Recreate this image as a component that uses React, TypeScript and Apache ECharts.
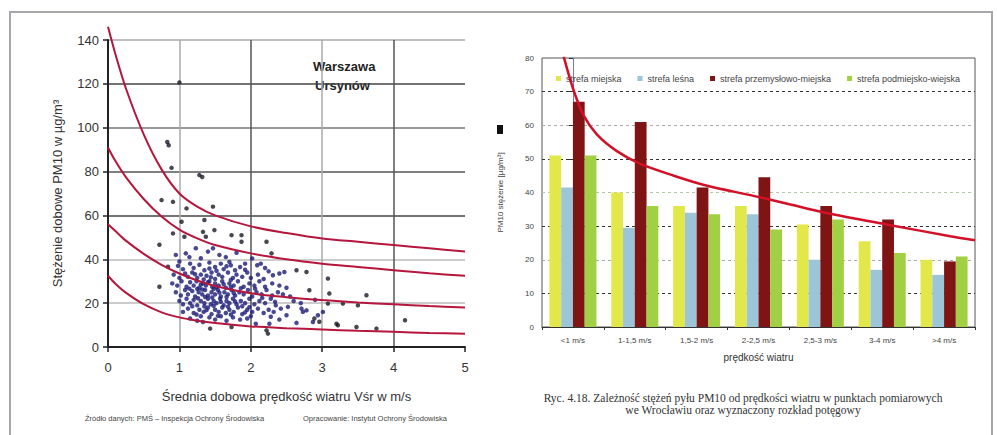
import { useEffect, useRef } from "react";
import * as echarts from "echarts";

// ---------- Left panel: scatter + envelope curves ----------
const leftXTicks = [0, 1, 2, 3, 4, 5];
const leftYTicks = [0, 20, 40, 60, 80, 100, 120, 140];

const curveX = [0, 0.1, 0.25, 0.5, 0.75, 1, 1.25, 1.5, 2, 2.5, 3, 3.5, 4, 4.5, 5];
const curveA = [146, 134, 118, 97, 81, 70, 64, 60, 55, 52, 49.5, 48, 46.5, 45, 43.5];
const curveB = [91, 85, 77.5, 67.5, 59.5, 53.5, 49.5, 46.5, 42.7, 40, 38, 36.5, 35, 33.6, 32.5];
const curveC = [56, 53, 48.5, 42.5, 37.5, 33.5, 30.3, 27.8, 24.5, 22.7, 21.4, 20.3, 19.5, 18.7, 18];
const curveD = [32.5, 29, 24.8, 19.5, 15.8, 13.5, 12, 10.9, 9.4, 8.6, 8, 7.4, 6.9, 6.4, 6];

const outlierPoints: [number, number][] = [
  [1.0, 120.6], [0.83, 93.5], [0.85, 92], [0.89, 81.7], [1.28, 78.4], [1.32, 77.5],
  [0.75, 67], [0.91, 66.2], [1.1, 63.2], [1.47, 64], [1.03, 57.1], [1.35, 57.9],
  [0.91, 51.8], [1.07, 50.3], [1.33, 52.5], [1.37, 50.3], [1.49, 53.3], [1.73, 51],
  [1.87, 51], [1.87, 48], [2.22, 48], [2.29, 42.7], [0.72, 46.6], [0.84, 36.6],
  [0.72, 27.5], [1.43, 8.4], [1.73, 9.1], [2.22, 7.6], [2.24, 6.1], [3.2, 10.6],
  [3.22, 9.9], [3.48, 9.1], [3.76, 8.4], [4.16, 12.2], [2.96, 11.5], [2.89, 13],
  [3.1, 24.4], [3.08, 31.2], [3.62, 23.6], [2.64, 35], [2.78, 34.2], [3.29, 19.8],
  [3.5, 19], [3.08, 19.8], [2.82, 25.9],
];

const clusterPoints: [number, number][] = [
  [0.95, 42], [1.09, 42.7], [1.14, 41], [1.23, 45], [1.47, 45], [1.56, 42], [1.3, 40.5],
  [1.65, 41], [2.02, 40.4], [1.8, 43], [1.4, 43.5],
  [0.98, 37], [1.05, 35.5], [1.15, 38], [1.2, 36], [1.28, 37.5], [1.35, 35], [1.42, 38.5],
  [1.5, 36.5], [1.58, 38], [1.62, 35.5], [1.7, 38.8], [1.72, 37.3], [1.78, 35], [1.85, 36.5],
  [1.92, 38], [2.09, 37.3], [2.14, 38], [2.2, 36], [1.0, 39],
  [0.92, 33], [1.0, 31.5], [1.08, 33.5], [1.12, 32], [1.18, 34], [1.25, 31.5], [1.3, 33],
  [1.38, 32.5], [1.45, 34], [1.5, 31], [1.55, 33], [1.6, 32], [1.68, 34], [1.75, 31.5],
  [1.8, 33], [1.88, 32], [1.95, 34], [2.0, 31.5], [2.1, 33], [2.18, 31], [2.31, 32.7],
  [2.4, 33.5], [2.47, 34.2], [2.25, 34.5],
  [0.9, 29], [0.97, 28], [1.03, 30], [1.1, 27.5], [1.15, 29.5], [1.2, 28], [1.24, 30],
  [1.28, 27], [1.33, 29], [1.37, 28], [1.42, 30], [1.46, 27.5], [1.5, 29], [1.55, 28],
  [1.6, 30], [1.65, 27], [1.7, 29], [1.76, 28], [1.82, 30], [1.9, 27.5], [1.98, 29],
  [2.05, 28], [2.12, 30], [2.2, 27.5], [2.3, 29], [2.4, 28], [2.5, 27], [1.3, 28.5], [1.4, 29.5],
  [0.95, 25], [1.02, 23.5], [1.08, 26], [1.12, 24], [1.18, 25.5], [1.22, 23], [1.27, 25],
  [1.32, 24], [1.36, 26], [1.4, 23.5], [1.45, 25], [1.5, 24], [1.54, 26], [1.58, 23],
  [1.63, 25], [1.68, 24], [1.73, 26], [1.78, 23.5], [1.84, 25], [1.9, 24], [1.96, 26],
  [2.02, 23], [2.08, 25], [2.15, 24], [2.22, 26], [2.3, 23.5], [2.38, 25], [2.45, 24],
  [2.55, 23], [1.25, 26.5], [1.48, 26.5],
  [1.0, 21], [1.05, 19.5], [1.1, 22], [1.15, 20], [1.2, 21.5], [1.25, 19], [1.3, 21],
  [1.35, 20], [1.4, 22], [1.44, 19.5], [1.48, 21], [1.52, 20], [1.57, 22], [1.62, 19],
  [1.66, 21], [1.7, 20], [1.75, 22], [1.8, 19.5], [1.86, 21], [1.92, 20], [1.98, 22],
  [2.05, 19.5], [2.12, 21], [2.2, 20], [2.28, 22], [2.35, 19], [2.52, 18.3], [2.6, 21],
  [2.7, 20], [2.9, 21.5],
  [1.05, 16], [1.12, 17.5], [1.2, 15.5], [1.28, 17], [1.34, 16], [1.4, 18], [1.45, 15],
  [1.5, 17], [1.55, 16], [1.6, 18], [1.65, 15.5], [1.7, 17], [1.76, 16], [1.82, 18],
  [1.88, 15], [1.95, 17], [2.02, 16], [2.1, 17.5], [2.18, 15.5], [2.25, 17], [2.32, 16],
  [2.42, 17.5], [2.71, 17.5], [2.73, 16], [2.78, 16.7], [3.01, 16], [2.5, 14.5], [2.94, 14.5],
  [1.35, 18.5],
  [1.15, 13], [1.25, 12], [1.33, 11.4], [1.42, 13.5], [1.5, 12.5], [1.58, 14], [1.66, 12],
  [1.75, 13.5], [1.85, 12.5], [1.95, 13], [2.07, 10.6], [2.26, 10.6], [2.64, 11], [2.87, 11.4],
  [2.4, 12.5], [2.0, 14], [1.3, 14],
  [1.22, 33.2], [1.34, 30.8], [1.44, 31.8], [1.52, 34.8], [1.62, 28.6], [1.72, 30.6],
  [1.26, 22.2], [1.36, 22.8], [1.46, 22.6], [1.56, 24.8], [1.66, 22.8], [1.76, 24.6],
  [1.18, 18.6], [1.38, 16.8], [1.48, 18.8], [1.58, 20.6], [1.68, 18.4], [1.78, 20.8],
  [1.88, 18.6], [1.98, 18.2], [1.14, 26.6], [1.32, 26.2], [1.52, 27.2], [1.72, 27.4],
  [1.86, 26.8], [2.06, 26.6], [1.42, 35.8], [1.66, 36.8], [1.92, 35.2], [2.16, 22.4],
  [2.34, 20.6], [1.54, 14.2], [1.72, 14.8], [1.92, 15.8], [1.24, 14.8], [2.28, 13.8],
];

// ---------- Right panel: bars + power trend ----------
const speedCats = ["<1 m/s", "1-1,5 m/s", "1,5-2 m/s", "2-2,5 m/s", "2,5-3 m/s", "3-4 m/s", ">4 m/s"];
const zoneNames = ["strefa miejska", "strefa leśna", "strefa przemysłowo-miejska", "strefa podmiejsko-wiejska"];
const zone1 = [51, 40, 36, 36, 30.5, 25.5, 20];
const zone2 = [41.5, 29.5, 34, 33.5, 20, 17, 15.5];
const zone3 = [67, 61, 41.5, 44.5, 36, 32, 19.5];
const zone4 = [51, 36, 33.5, 29, 32, 22, 21];
const rightYTicks = [0, 10, 20, 30, 40, 50, 60, 70, 80];
const trendPos = [-0.15, 0, 0.17, 0.39, 0.71, 1.09, 1.63, 2.17, 2.92, 3.5, 4.08, 5.07, 6.1, 6.5];
const trendVal = [80.5, 71, 63, 57.2, 52.3, 48.5, 45, 42, 39, 36.5, 34, 30.5, 27, 25.8];

const SANS = "'Liberation Sans', Arial, sans-serif";
const SERIF = "'Liberation Serif', 'Times New Roman', serif";

function buildOption() {
  const curveSeries = [curveA, curveB, curveC, curveD].map((c) => ({
    type: "line",
    xAxisIndex: 0,
    yAxisIndex: 0,
    data: curveX.map((x, i) => [x, c[i]]),
    smooth: 0.3,
    symbol: "none",
    clip: false,
    z: 4,
    lineStyle: { color: "#b5163c", width: 2 },
  }));
  const barColors = ["#e2e84a", "#9cc6d8", "#7e1414", "#a2d044"];
  const barSeries = [zone1, zone2, zone3, zone4].map((d, k) => ({
    type: "bar",
    name: zoneNames[k],
    xAxisIndex: 1,
    yAxisIndex: 1,
    data: d,
    barGap: "0%",
    barCategoryGap: "24%",
    itemStyle: { color: barColors[k] },
  }));

  return {
    animation: false,
    backgroundColor: "#ffffff",
    textStyle: { fontFamily: SANS },
    grid: [
      { left: 108, top: 40, width: 357, height: 307 },
      { left: 542, top: 58, width: 433, height: 269, show: true, borderColor: "#555", borderWidth: 1, backgroundColor: "transparent" },
    ],
    legend: {
      data: zoneNames,
      left: 551,
      top: 69,
      icon: "rect",
      itemWidth: 5,
      itemHeight: 5,
      itemGap: 16,
      textStyle: { fontSize: 9, color: "#444", fontFamily: SANS },
    },
    xAxis: [
      {
        gridIndex: 0,
        type: "value",
        min: leftXTicks[0],
        max: leftXTicks[leftXTicks.length - 1],
        interval: 1,
        name: "Średnia dobowa prędkość wiatru Vśr w m/s",
        nameLocation: "middle",
        nameGap: 43,
        nameTextStyle: { fontSize: 13, color: "#333", fontFamily: SANS },
        axisLine: { show: true, lineStyle: { color: "#222", width: 2 } },
        axisTick: { show: true, length: 5, lineStyle: { color: "#222", width: 1.5 } },
        axisLabel: { fontSize: 13, color: "#333", margin: 14, fontFamily: SANS },
        splitLine: {
          show: true,
          lineStyle: { color: ["#222", "#aaaaaa", "#555555", "#aaaaaa", "#555555", "rgba(0,0,0,0)"], width: 1.5 },
        },
      },
      {
        gridIndex: 1,
        type: "category",
        data: speedCats,
        name: "prędkość wiatru",
        nameLocation: "middle",
        nameGap: 25,
        nameTextStyle: { fontSize: 10, color: "#333", fontFamily: SANS },
        axisLine: { show: true, lineStyle: { color: "#333", width: 1 } },
        axisTick: { show: true, length: 3, lineStyle: { color: "#333" } },
        axisLabel: { fontSize: 8, color: "#444", margin: 9, fontFamily: SANS },
        splitLine: { show: false },
      },
      { gridIndex: 1, type: "value", min: -0.5, max: 6.5, show: false },
    ],
    yAxis: [
      {
        gridIndex: 0,
        type: "value",
        min: leftYTicks[0],
        max: leftYTicks[leftYTicks.length - 1],
        interval: 20,
        name: "Stężenie dobowe PM10 w µg/m³",
        nameLocation: "middle",
        nameGap: 44,
        nameTextStyle: { fontSize: 13, color: "#333", fontFamily: SANS },
        axisLine: { show: true, lineStyle: { color: "#222", width: 2 } },
        axisTick: { show: true, length: 5, lineStyle: { color: "#222", width: 1.5 } },
        axisLabel: { fontSize: 13, color: "#333", margin: 9, fontFamily: SANS },
        splitLine: {
          show: true,
          lineStyle: {
            color: ["#222", "#bbbbbb", "#bbbbbb", "#444444", "#555555", "#777777", "#444444", "#aaaaaa"],
            width: 1.5,
          },
        },
      },
      {
        gridIndex: 1,
        type: "value",
        min: rightYTicks[0],
        max: rightYTicks[rightYTicks.length - 1],
        interval: 10,
        name: "PM10 stężenie [µg/m³]",
        nameLocation: "middle",
        nameGap: 38,
        nameTextStyle: { fontSize: 8, color: "#444", fontFamily: SANS },
        axisLine: { show: true, lineStyle: { color: "#7777bb", width: 1 } },
        axisTick: { show: true, length: 4, lineStyle: { color: "#333" } },
        axisLabel: { fontSize: 8, color: "#444", margin: 8, fontFamily: SANS },
        splitLine: {
          show: true,
          lineStyle: {
            type: [3, 3],
            width: 1,
            color: ["rgba(0,0,0,0)", "#333", "#aaa", "#333", "#b4c8a4", "#333", "#aaa", "#333", "rgba(0,0,0,0)"],
          },
        },
      },
    ],
    series: [
      {
        type: "scatter",
        xAxisIndex: 0,
        yAxisIndex: 0,
        data: clusterPoints,
        symbol: "circle",
        symbolSize: 4.5,
        itemStyle: { color: "#1c1c78" },
        z: 3,
      },
      {
        type: "scatter",
        xAxisIndex: 0,
        yAxisIndex: 0,
        data: outlierPoints,
        symbol: "circle",
        symbolSize: 4.5,
        itemStyle: { color: "#1a1a28" },
        z: 3,
      },
      ...curveSeries,
      ...barSeries,
      {
        type: "line",
        xAxisIndex: 2,
        yAxisIndex: 1,
        data: trendPos.map((p, i) => [p, trendVal[i]]),
        smooth: 0.3,
        symbol: "none",
        z: 6,
        lineStyle: { color: "#d21028", width: 2.5 },
      },
    ],
    graphic: [
      {
        type: "rect",
        shape: { x: 10, y: 12, width: 982, height: 440 },
        style: { fill: "none", stroke: "#a6a6ae", lineWidth: 2 },
        silent: true,
      },
      {
        type: "text",
        x: 313,
        y: 60,
        style: { text: "Warszawa", font: `bold 13px ${SANS}`, fill: "#222" },
      },
      {
        type: "text",
        x: 315,
        y: 79,
        style: { text: "Ursynów", font: `bold 13px ${SANS}`, fill: "#222" },
      },
      {
        type: "text",
        x: 85,
        y: 414,
        style: { text: "Źródło danych: PMŚ – Inspekcja Ochrony Środowiska", font: `7.5px ${SANS}`, fill: "#444" },
      },
      {
        type: "text",
        x: 303,
        y: 414,
        style: { text: "Opracowanie: Instytut Ochrony Środowiska", font: `7.5px ${SANS}`, fill: "#444" },
      },
      {
        type: "text",
        x: 743,
        y: 392,
        style: {
          text: "Ryc. 4.18. Zależność stężeń pyłu PM10 od prędkości wiatru w punktach pomiarowych",
          font: `11.5px ${SERIF}`,
          fill: "#333",
          align: "center",
        },
      },
      {
        type: "text",
        x: 743,
        y: 404,
        style: {
          text: "we Wrocławiu oraz wyznaczony rozkład potęgowy",
          font: `11.5px ${SERIF}`,
          fill: "#333",
          align: "center",
        },
      },
      {
        type: "rect",
        shape: { x: 497, y: 125, width: 6, height: 9 },
        style: { fill: "#111" },
        silent: true,
      },
    ],
  };
}

export default function App() {
  const ref = useRef<HTMLDivElement>(null);
  useEffect(() => {
    if (!ref.current) return;
    const chart = echarts.init(ref.current, null, { renderer: "svg" });
    chart.setOption(buildOption() as any);
    return () => chart.dispose();
  }, []);
  return (
    <div
      ref={ref}
      style={{ position: "fixed", left: 0, top: 0, width: 997, height: 435, background: "#fff" }}
    />
  );
}
